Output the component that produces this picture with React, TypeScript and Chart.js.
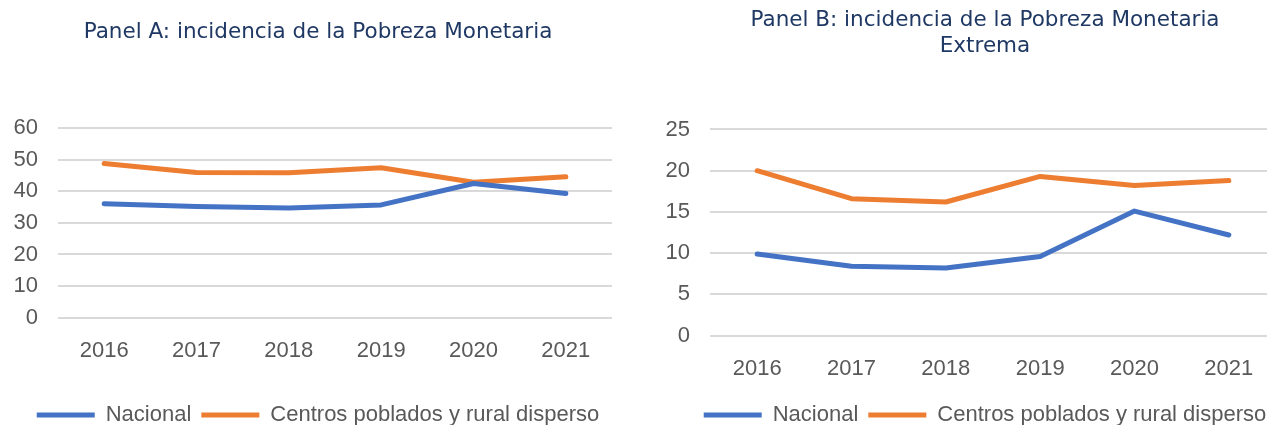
import React, { useEffect, useRef } from "react";
import { Chart, registerables } from "chart.js";

Chart.register(...registerables);

const years = ["2016", "2017", "2018", "2019", "2020", "2021"];
const nacionalA = [36.1, 35.2, 34.7, 35.7, 42.5, 39.3];
const ruralA = [48.8, 46.0, 45.9, 47.5, 42.9, 44.6];
const nacionalB = [9.9, 8.4, 8.2, 9.6, 15.1, 12.2];
const ruralB = [20.0, 16.6, 16.2, 19.3, 18.2, 18.8];
const seriesNames = ["Nacional", "Centros poblados y rural disperso"];
const titleA = "Panel A: incidencia de la Pobreza Monetaria";
const titleB = ["Panel B: incidencia de la Pobreza Monetaria", "Extrema"];

const BLUE = "#4472C4";
const ORANGE = "#ED7D31";
const GRID = "#d9d9d9";
const TICK = "#595959";
const TITLE = "#1f3864";
const FONT = "'Liberation Sans', Arial, sans-serif";

function makeConfig(
  title: string | string[],
  nac: number[],
  rur: number[],
  yMax: number,
  step: number,
  yWidth: number,
  rightWidth: number,
  titlePad: { top: number; bottom: number },
  xExtra: number
): any {
  const ds = (label: string, data: number[], color: string) => ({
    label,
    data,
    borderColor: color,
    backgroundColor: color,
    borderWidth: 5,
    borderCapStyle: "round",
    borderJoinStyle: "round",
    pointRadius: 0,
    pointHoverRadius: 0,
    tension: 0,
    fill: false,
    yAxisID: "y",
  });
  return {
    type: "line",
    data: {
      labels: years,
      datasets: [ds(seriesNames[0], nac, BLUE), ds(seriesNames[1], rur, ORANGE)],
    },
    options: {
      animation: false,
      responsive: false,
      maintainAspectRatio: false,
      layout: { padding: 0 },
      plugins: {
        tooltip: { enabled: false },
        title: {
          display: true,
          text: title,
          color: TITLE,
          font: { family: "'DejaVu Sans', Verdana, sans-serif", size: 21.5, weight: "normal", lineHeight: 1.22 },
          padding: titlePad,
        },
        legend: {
          display: true,
          position: "bottom",
          labels: {
            color: TICK,
            font: { family: FONT, size: 22 },
            usePointStyle: true,
            pointStyle: "line",
            pointStyleWidth: 58,
            padding: 10,
          },
        },
      },
      scales: {
        x: {
          offset: true,
          grid: { display: false, drawTicks: false, offset: true },
          border: { display: false },
          ticks: { color: TICK, font: { family: FONT, size: 22 }, padding: 20 },
          afterFit: (s: any) => {
            s.height += xExtra;
          },
        },
        y: {
          position: "left",
          min: 0,
          max: yMax,
          grid: { color: GRID, lineWidth: 2, drawTicks: false },
          border: { display: false },
          ticks: { stepSize: step, autoSkip: false, color: TICK, font: { family: FONT, size: 22 }, padding: 20 },
          afterFit: (s: any) => {
            s.width = yWidth;
          },
        },
        yRight: {
          type: "linear",
          position: "right",
          display: true,
          min: 0,
          max: yMax,
          grid: { display: false, drawTicks: false },
          border: { display: false },
          ticks: { display: false },
          afterFit: (s: any) => {
            s.width = rightWidth;
          },
        },
      },
    },
  };
}

export default function App() {
  const refA = useRef<HTMLCanvasElement>(null);
  const refB = useRef<HTMLCanvasElement>(null);

  useEffect(() => {
    document.body.style.margin = "0";
    const a = new Chart(
      refA.current!,
      makeConfig(titleA, nacionalA, ruralA, 60, 10, 58, 24, { top: 19, bottom: 83 }, 10)
    );
    const b = new Chart(
      refB.current!,
      makeConfig(titleB, nacionalB, ruralB, 25, 5, 70, 54, { top: 7, bottom: 70 }, -8)
    );
    return () => {
      a.destroy();
      b.destroy();
    };
  }, []);

  return (
    <div style={{ position: "relative", width: 1267, height: 425, overflow: "hidden", background: "#fff" }}>
      <canvas ref={refA} width={636} height={436} style={{ position: "absolute", left: 0, top: 0 }} />
      <canvas ref={refB} width={690} height={436} style={{ position: "absolute", left: 640, top: 0 }} />
    </div>
  );
}
